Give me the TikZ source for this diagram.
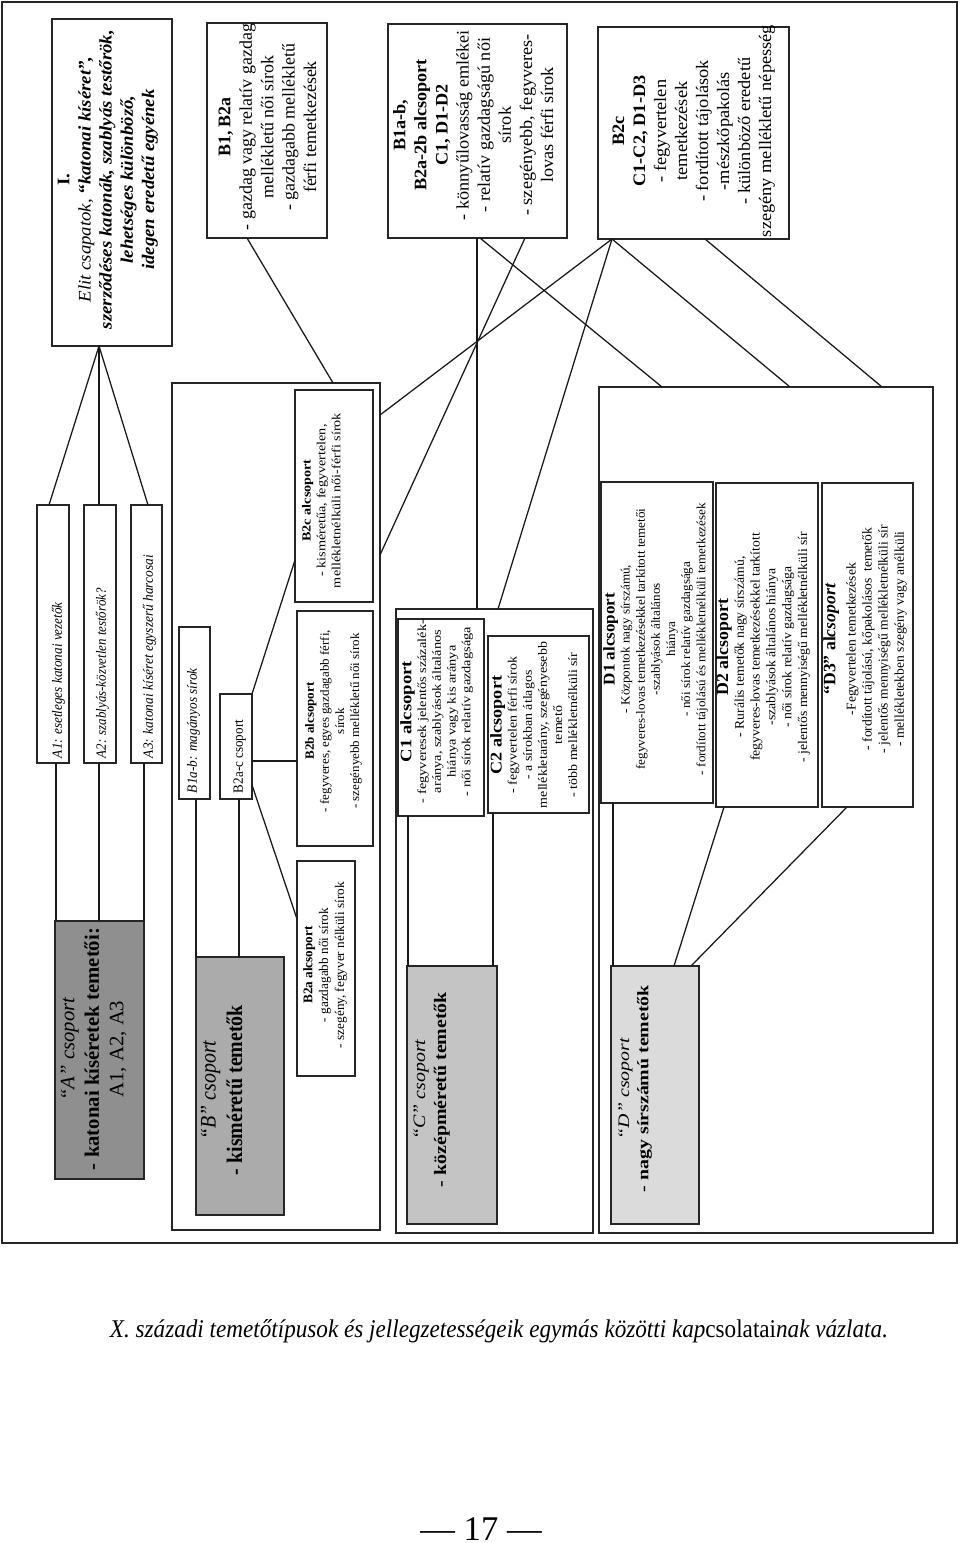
\documentclass[tikz,border=0pt]{standalone}
\usepackage{fontspec}
\setmainfont{Liberation Serif}
\usepackage{graphicx}
\tikzset{
  boxf/.style={draw=black!85, line width=1.3pt, inner sep=0pt, outer sep=0pt},
  link/.style={draw=black!90, line width=0.95pt},
  tx/.style={inner sep=0pt, outer sep=0pt},
}
\newcommand\mybox[6]{%
  \pgfmathsetmacro\myW{(#4-#2)*0.75}%
  \pgfmathsetmacro\myH{(#5-#3)*0.75}%
  \node[boxf,#6,minimum width=\myW pt,minimum height=\myH pt] (#1) at ({(#2+#4)/2},{(#3+#5)/2}) {};}
\newcommand\mytext[8]{%
  \pgfmathsetmacro\myL{(#5-#3)*0.75}%
  \pgfmathsetmacro\myT{(#4-#2)*0.75*#6*12/(#6*12-2.8)}%
  \node[tx] (#1) at ({(#2+#4)/2},{(#3+#5)/2}) {\rotatebox{90}{\resizebox*{\myL pt}{\myT pt}{\fontsize{10}{12}\selectfont\begin{tabular}{@{}#7@{}}#8\end{tabular}}}};}
\newcommand\hd[1]{{\fontsize{13}{14}\selectfont\bfseries #1}}
\begin{document}
\begin{tikzpicture}[x=0.75pt,y=-0.75pt]
\useasboundingbox (0,0) rectangle (960,1543);
\fill[white] (0,0) rectangle (960,1543);
% frame and containers
\mybox{frame}{2}{2}{957}{1243}{line width=1.6pt}
\mybox{Bc}{172}{383}{380}{1230}{}
\mybox{Cc}{396}{609}{593}{1233}{}
\mybox{Dc}{599}{387}{933}{1233}{}
% top summary boxes
\mybox{I}{52}{19}{172}{346}{}
\mybox{S1}{207}{23}{327}{238}{}
\mybox{S2}{388}{24}{567}{238}{}
\mybox{S3}{598}{27}{789}{239}{}
% A group
\mybox{A1}{37}{505}{69}{763}{}
\mybox{A2}{84}{505}{116}{763}{}
\mybox{A3}{131}{505}{162}{763}{}
\mybox{A}{55}{921}{144}{1179}{fill=black!44}
% B group
\mybox{B1ab}{179}{627}{210}{799}{}
\mybox{B2ac}{220}{694}{252}{799}{}
\mybox{B}{196}{957}{284}{1215}{fill=black!33}
\mybox{B2c}{295}{390}{373}{602}{}
\mybox{B2b}{297}{611}{373}{846}{}
\mybox{B2a}{297}{861}{355}{1076}{}
% C group
\mybox{C1}{398}{619}{484}{816}{}
\mybox{C2}{488}{636}{589}{813}{}
\mybox{C}{407}{966}{497}{1224}{fill=black!23}
% D group
\mybox{D1}{601}{482}{713}{803}{}
\mybox{D2}{716}{483}{818}{807}{}
\mybox{D3}{822}{483}{913}{807}{}
\mybox{D}{611}{966}{699}{1224}{fill=black!14}
% connectors
\draw[link] (99,0 |- I.south) -- (49,0 |- A1.north);
\draw[link] (99,0 |- I.south) -- (99,0 |- A2.north);
\draw[link] (99,0 |- I.south) -- (148,0 |- A3.north);
\draw[link] (56,0 |- A1.south) -- (56,0 |- A.north);
\draw[link] (99,0 |- A2.south) -- (99,0 |- A.north);
\draw[link] (144,0 |- A3.south) -- (144,0 |- A.north);
\draw[link] (196,0 |- B1ab.south) -- (196,0 |- B.north);
\draw[link] (239,0 |- B2ac.south) -- (239,0 |- B.north);
\draw[link] (B2ac.north east) -- (B2c.west |- 0,560);
\draw[link] (B2ac.east |- 0,761) -- (B2b.west |- 0,761);
\draw[link] (B2ac.east |- 0,785) -- (B2a.west |- 0,919);
\draw[link] (408,0 |- C1.south) -- (408,0 |- C.north);
\draw[link] (493,0 |- C2.south) -- (493,0 |- C.north);
\draw[link] (613,0 |- D1.south) -- (613,0 |- D.north);
\draw[link] (724,0 |- D2.south) -- (674,0 |- D.north);
\draw[link] (847,0 |- D3.south) -- (691,0 |- D.north);
\draw[link] (247,0 |- S1.south) -- (333,0 |- Bc.north);
\draw[link] (477,0 |- S2.south) -- (477,0 |- Cc.north);
\draw[link] (480,0 |- S2.south) -- (662,0 |- Dc.north);
\draw[link] (525,0 |- S2.south) -- (Bc.east |- 0,555);
\draw[link] (612,0 |- S3.south) -- (Bc.east |- 0,415);
\draw[link] (612,0 |- S3.south) -- (498,0 |- Cc.north);
\draw[link] (612,0 |- S3.south) -- (790,0 |- Dc.north);
\draw[link] (705,0 |- S3.south) -- (882,0 |- Dc.north);
% texts
\mytext{tI}{57}{30}{158}{329}{5}{c}{\textbf{I.}\\ \textit{Elit csapatok,} \textbf{\textit{“katonai kíséret”,}}\\ \textbf{\textit{szerződéses katonák, szablyás testőrök,}}\\ \textbf{\textit{lehetséges különböző,}}\\ \textbf{\textit{idegen eredetű egyének}}}
\mytext{tS1}{218}{24}{320}{230}{5}{c}{\textbf{B1, B2a}\\ - gazdag vagy relatív gazdag\\ mellékletű női sírok\\ - gazdagabb mellékletű\\ férfi temetkezések}
\mytext{tS2}{393}{30}{557}{220}{8}{c}{\textbf{B1a-b,}\\ \textbf{B2a-2b alcsoport}\\ \textbf{C1, D1-D2}\\ - könnyűlovasság emlékei\\ - relatív gazdagságú női\\ sírok\\ - szegényebb, fegyveres-\\ lovas férfi sírok}
\mytext{tS3}{612}{25}{775}{237}{8}{c}{\textbf{B2c}\\ \textbf{C1-C2, D1-D3}\\ - fegyvertelen\\ temetkezések\\ - fordított tájolások\\ -mészkőpakolás\\ - különböző eredetű\\ szegény mellékletű népesség}
\mytext{tA1}{52}{602}{65}{758}{1}{l}{\textit{A1: esetleges katonai vezetők}}
\mytext{tA2}{96}{588}{109}{758}{1}{l}{\textit{A2: szablyás-közvetlen testőrök?}}
\mytext{tA3}{143}{555}{156}{758}{1}{l}{\textit{A3: katonai kíséret egyszerű harcosai}}
\mytext{tB1ab}{187}{668}{200}{793}{1}{l}{\textit{B1a-b: magányos sírok}}
\mytext{tB2ac}{233}{720}{246}{793}{1}{l}{B2a-c csoport}
\mytext{tA}{60}{928}{128}{1170}{3}{c}{\textit{“A” csoport}\\ \textbf{- katonai kíséretek temetői:}\\ A1, A2, A3}
\mytext{tB}{200}{1005}{247}{1175}{2}{c}{\textit{“B” csoport}\\ \textbf{- kisméretű temetők}}
\mytext{tC}{413}{992}{450}{1187}{2}{c}{\textit{“C” csoport}\\ \textbf{- középméretű temetők}}
\mytext{tD}{618}{985}{652}{1192}{2}{c}{\textit{“D” csoport}\\ \textbf{- nagy sírszámú temetők}}
\mytext{tB2c}{302}{413}{343}{588}{3}{c}{\textbf{B2c alcsoport}\\ - kisméretűa, fegyvertelen,\\ mellékletnélküli női-férfi sírok}
\mytext{tB2b}{305}{630}{362}{812}{4}{c}{\textbf{B2b alcsoport}\\ - fegyveres, egyes gazdagabb férfi,\\ sírok\\ - szegényebb mellékletű női sírok}
\mytext{tB2a}{303}{882}{347}{1048}{3}{c}{\textbf{B2a alcsoport}\\ - gazdagabb női sírok\\ - szegény, fegyver nélküli sírok}
\mytext{tC1}{402}{620}{473}{803}{5}{c}{\hd{C1 alcsoport}\\ - fegyveresek jelentős százalék-\\ aránya, szablyások általános\\ hiánya vagy kis aránya\\ - női sírok relatív gazdagsága}
\mytext{tC2}{492}{642}{580}{808}{6}{c}{\hd{C2 alcsoport}\\ - fegyvertelen férfi sírok\\ - a sírokban átlagos\\ mellékletarány, szegényesebb\\ temető\\ - több mellékletnélküli sír}
\mytext{tD1}{605}{503}{708}{775}{7}{c}{\hd{D1 alcsoport}\\ - Központok nagy sírszámú,\\ fegyveres-lovas temetkezésekkel tarkított temetői\\ -szablyások általános\\ hiánya\\ - női sírok relatív gazdagsága\\ - fordított tájolású és mellékletnélküli temetkezések}
\mytext{tD2}{718}{532}{810}{762}{6}{c}{\hd{D2 alcsoport}\\ - Rurális temetők nagy sírszámú,\\ fegyveres-lovas temetkezésekkel tarkított\\ -szablyások általános hiánya\\ - női sírok relatív gazdagsága\\ - jelentős mennyiségű mellékletnélküli sír}
\mytext{tD3}{825}{525}{907}{753}{6}{c}{\hd{“D3” al\textit{csoport}}\\[3pt] -Fegyvertelen temetkezések\\ - fordított tájolású, kőpakolásos\ \ temetők\\ - jelentős mennyiségű mellékletnélküli sír\\ - mellékletekben szegény vagy anélküli}
% caption and page number
\node[tx,anchor=base] (cap) at (499,1337) {\resizebox{583.5pt}{13.5pt}{\fontsize{20}{24}\selectfont\itshape X. századi temetőtípusok és jellegzetességeik egymás közötti kap{\upshape csolatai}nak vázlata.}};
\node[tx,anchor=base] (pg) at (481,1540) {\fontsize{26}{30}\selectfont — 17 —};
\end{tikzpicture}
\end{document}
